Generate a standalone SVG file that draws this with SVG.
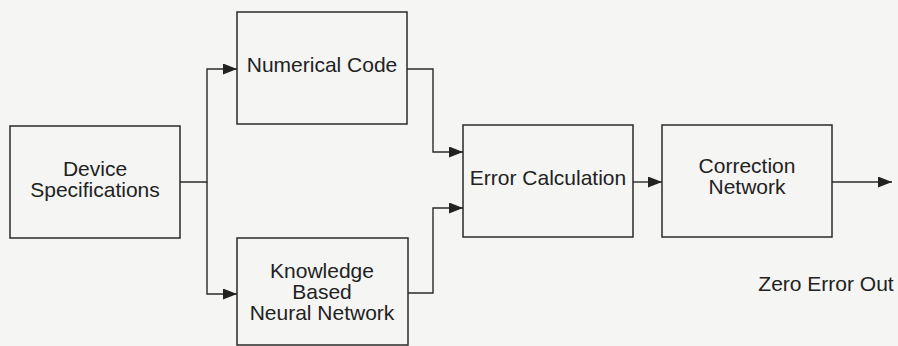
<svg xmlns="http://www.w3.org/2000/svg" width="898" height="346" viewBox="0 0 898 346">
<defs>
<style>
.box{fill:none;stroke:#2a2a2a;stroke-width:1.5}
.ln{fill:none;stroke:#2a2a2a;stroke-width:1.4;marker-end:url(#ah)}
text{font-family:"Liberation Sans",Arial,sans-serif;font-size:21px;fill:#222;text-anchor:middle}
</style>
<marker id="ah" viewBox="0 0 14 11" refX="14" refY="5.5" markerWidth="14" markerHeight="11" markerUnits="userSpaceOnUse" orient="auto">
<path d="M0,0 L14,5.5 L0,11 Z" fill="#222"/>
</marker>
</defs>
<rect width="898" height="346" fill="#f5f5f3"/>
<g id="connectors">
<path class="ln" d="M180,182 H207 V69 H237"/>
<path class="ln" d="M207,182 V294 H237"/>
<path class="ln" d="M407,69 H433 V152 H463"/>
<path class="ln" d="M408,293 H433 V208 H463"/>
<path class="ln" d="M633,182 H662"/>
<path class="ln" d="M832,182 H892"/>
</g>
<g id="device">
<rect class="box" x="10" y="126" width="170" height="112"/>
<text x="95" y="176">Device</text>
<text x="95" y="197">Specifications</text>
</g>
<g id="numerical">
<rect class="box" x="237" y="12" width="170" height="112"/>
<text x="322" y="72">Numerical Code</text>
</g>
<g id="knowledge">
<rect class="box" x="237" y="238" width="171" height="107"/>
<text x="322" y="278">Knowledge</text>
<text x="322" y="299">Based</text>
<text x="322" y="320">Neural Network</text>
</g>
<g id="error">
<rect class="box" x="463" y="125" width="170" height="112"/>
<text x="548" y="185">Error Calculation</text>
</g>
<g id="correction">
<rect class="box" x="662" y="125" width="170" height="112"/>
<text x="747" y="173">Correction</text>
<text x="747" y="194">Network</text>
</g>
<g id="output">
<text x="826" y="291">Zero Error Out</text>
</g>
</svg>
